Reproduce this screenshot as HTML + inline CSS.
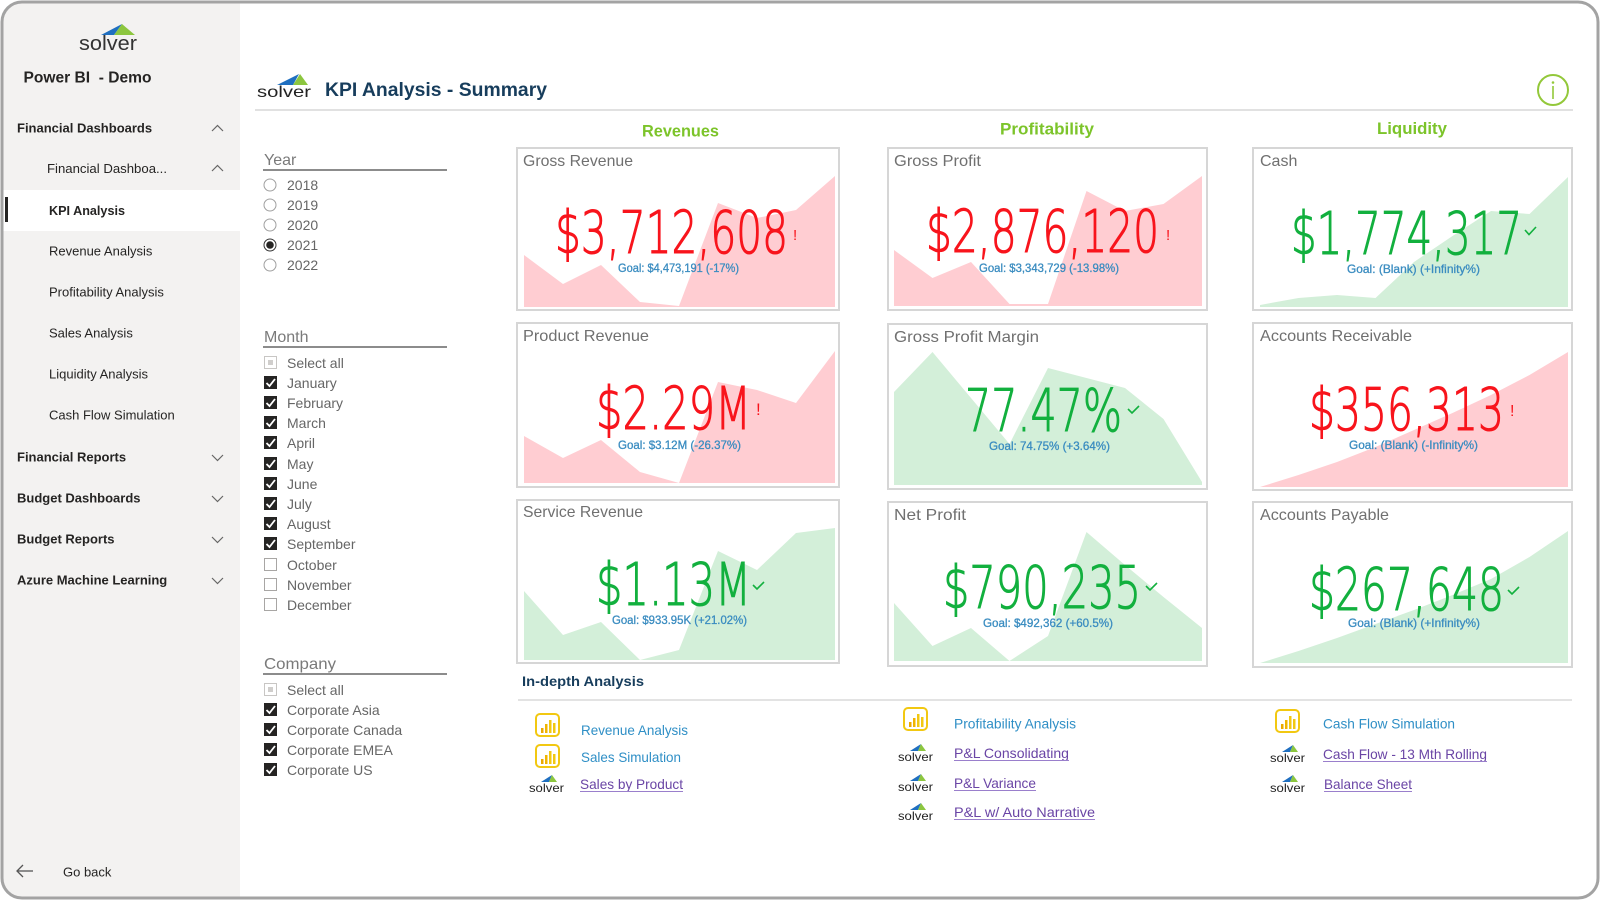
<!DOCTYPE html>
<html><head><meta charset="utf-8">
<style>
html,body{margin:0;padding:0;background:#fff;width:1600px;height:900px;overflow:hidden}
svg{display:block}
text{font-family:"Liberation Sans",sans-serif}
.nav{font-size:13px;fill:#252423}
.navb{font-size:13px;fill:#252423;font-weight:bold}
.fl{font-size:14px;fill:#666}
.fh{font-size:16px;fill:#7a7a7a}
.ct{font-size:16px;fill:#707070}
text.big{font-size:59px;font-family:"DejaVu Sans ExtraLight","DejaVu Sans","Liberation Sans",sans-serif;font-weight:200;stroke-width:1.1}
.r{fill:#f8141c;stroke:#f8141c}
.g{fill:#12b03e;stroke:#12b03e}
text.r.s,text.g.s{stroke:none}
.goal{font-size:12px;fill:#3a8cc0;stroke:#3a8cc0;stroke-width:0.3}
.lk{font-size:14px;fill:#2f8fc6}
.lkv{font-size:14px;fill:#6a45a5}
.chev{fill:none;stroke:#666;stroke-width:1.2}
.card{fill:#fff;stroke:#d6d6d6;stroke-width:2}
.pk{fill:#ffcdd2}
.gf{fill:#d3efd9}
.ck{fill:none;stroke:#12b03e;stroke-width:1.6}
.hdr{font-size:16.5px;font-weight:bold;fill:#7cc42a}
</style></head><body>
<svg width="1600" height="900" viewBox="0 0 1600 900" xmlns="http://www.w3.org/2000/svg">
<defs><clipPath id="fr"><rect x="2" y="2" width="1596" height="896" rx="20"/></clipPath></defs>
<rect width="1600" height="900" fill="#fff"/>
<g clip-path="url(#fr)">
  <rect x="0" y="0" width="240" height="900" fill="#f3f2f1"/>
  <rect x="0" y="190" width="240" height="41" fill="#fff"/>
</g>
<rect x="2" y="2" width="1596" height="896" rx="20" fill="none" stroke="#a3a3a3" stroke-width="3"/>

<!-- Sidebar -->
<polygon points="101,35 122,24 114,35" fill="#1f6fc0"/>
<polygon points="114,35 122,24 135,35" fill="#8cc63f"/>
<text x="79" y="50" font-size="20" fill="#333" textLength="58" lengthAdjust="spacingAndGlyphs">solver</text>
<text x="23.5" y="82.5" font-size="15.5" font-weight="bold" fill="#252423" textLength="128" lengthAdjust="spacingAndGlyphs">Power BI&#160;&#160;- Demo</text>

<text x="17" y="132.5" class="navb">Financial Dashboards</text>
<polyline class="chev" points="212,131 217.5,125.5 223,131"/>
<text x="47" y="173" class="nav" textLength="120" lengthAdjust="spacingAndGlyphs">Financial Dashboa...</text>
<polyline class="chev" points="212,171 217.5,165.5 223,171"/>
<rect x="5" y="197" width="3" height="25" fill="#252423"/>
<text x="49" y="215" class="navb" textLength="76" lengthAdjust="spacingAndGlyphs">KPI Analysis</text>
<text x="49" y="255.5" class="nav">Revenue Analysis</text>
<text x="49" y="296.5" class="nav">Profitability Analysis</text>
<text x="49" y="337.5" class="nav">Sales Analysis</text>
<text x="49" y="378.5" class="nav">Liquidity Analysis</text>
<text x="49" y="419.5" class="nav">Cash Flow Simulation</text>
<text x="17" y="461.5" class="navb">Financial Reports</text>
<polyline class="chev" points="212,455 217.5,460.5 223,455"/>
<text x="17" y="502.5" class="navb">Budget Dashboards</text>
<polyline class="chev" points="212,496 217.5,501.5 223,496"/>
<text x="17" y="543.5" class="navb">Budget Reports</text>
<polyline class="chev" points="212,537 217.5,542.5 223,537"/>
<text x="17" y="584.5" class="navb">Azure Machine Learning</text>
<polyline class="chev" points="212,578 217.5,583.5 223,578"/>
<g fill="none" stroke="#555" stroke-width="1.3"><line x1="17" y1="871" x2="33" y2="871"/><polyline points="23,865 17,871 23,877"/></g>
<text x="63" y="876.5" class="nav">Go back</text>

<!-- Header -->
<polygon points="277,85 299,74 293,85" fill="#1f6fc0"/>
<polygon points="293,85 300,74 308,85" fill="#8cc63f"/>
<text x="257" y="97" font-size="16" fill="#222" textLength="54" lengthAdjust="spacingAndGlyphs">solver</text>
<text x="325" y="96" font-size="19" font-weight="bold" fill="#173d5c" textLength="222" lengthAdjust="spacingAndGlyphs">KPI Analysis - Summary</text>
<line x1="255" y1="110" x2="1573" y2="110" stroke="#e1e1e1" stroke-width="2"/>
<circle cx="1553" cy="90" r="15" fill="none" stroke="#93c83a" stroke-width="2"/>
<circle cx="1553" cy="82.5" r="1.3" fill="#93c83a"/>
<line x1="1553" y1="86" x2="1553" y2="99" stroke="#93c83a" stroke-width="1.6"/>

<!-- Filters -->
<text x="264" y="165" class="fh">Year</text>
<line x1="263" y1="170" x2="447" y2="170" stroke="#666" stroke-width="1.6"/>
<g fill="#fff" stroke="#a0a0a0" stroke-width="1">
  <circle cx="270" cy="185" r="6"/><circle cx="270" cy="205" r="6"/><circle cx="270" cy="225" r="6"/><circle cx="270" cy="265" r="6"/>
</g>
<circle cx="270" cy="245" r="6" fill="#fff" stroke="#333" stroke-width="1"/>
<circle cx="270" cy="245" r="3.8" fill="#252423"/>
<text x="287" y="190" class="fl">2018</text>
<text x="287" y="210" class="fl">2019</text>
<text x="287" y="230" class="fl">2020</text>
<text x="287" y="250" class="fl">2021</text>
<text x="287" y="270" class="fl">2022</text>

<text x="264" y="342" class="fh">Month</text>
<line x1="263" y1="347" x2="447" y2="347" stroke="#666" stroke-width="1.6"/>
<rect x="264.5" y="356.5" width="12" height="12" fill="#fff" stroke="#c8c6c4"/>
<rect x="268" y="360" width="5" height="5" fill="#d0cecc"/>
<text x="287" y="368" class="fl">Select all</text>
<g fill="#252423">
  <rect x="264" y="376" width="13" height="13"/><rect x="264" y="396" width="13" height="13"/><rect x="264" y="416" width="13" height="13"/>
  <rect x="264" y="436" width="13" height="13"/><rect x="264" y="457" width="13" height="13"/><rect x="264" y="477" width="13" height="13"/>
  <rect x="264" y="497" width="13" height="13"/><rect x="264" y="517" width="13" height="13"/><rect x="264" y="537" width="13" height="13"/>
</g>
<g fill="none" stroke="#fff" stroke-width="1.8">
  <polyline points="266.5,383 269.5,386 275,379"/><polyline points="266.5,403 269.5,406 275,399"/><polyline points="266.5,423 269.5,426 275,419"/>
  <polyline points="266.5,443 269.5,446 275,439"/><polyline points="266.5,464 269.5,467 275,460"/><polyline points="266.5,484 269.5,487 275,480"/>
  <polyline points="266.5,504 269.5,507 275,500"/><polyline points="266.5,524 269.5,527 275,520"/><polyline points="266.5,544 269.5,547 275,540"/>
</g>
<g fill="#fff" stroke="#a8a6a4" stroke-width="1">
  <rect x="264.5" y="558.5" width="12" height="12"/><rect x="264.5" y="578.5" width="12" height="12"/><rect x="264.5" y="598.5" width="12" height="12"/>
</g>
<text x="287" y="388" class="fl">January</text>
<text x="287" y="408" class="fl">February</text>
<text x="287" y="428" class="fl">March</text>
<text x="287" y="448" class="fl">April</text>
<text x="287" y="469" class="fl">May</text>
<text x="287" y="489" class="fl">June</text>
<text x="287" y="509" class="fl">July</text>
<text x="287" y="529" class="fl">August</text>
<text x="287" y="549" class="fl">September</text>
<text x="287" y="570" class="fl">October</text>
<text x="287" y="590" class="fl">November</text>
<text x="287" y="610" class="fl">December</text>

<text x="264" y="669" class="fh" textLength="72" lengthAdjust="spacingAndGlyphs">Company</text>
<line x1="263" y1="674" x2="447" y2="674" stroke="#666" stroke-width="1.6"/>
<rect x="264.5" y="683.5" width="12" height="12" fill="#fff" stroke="#c8c6c4"/>
<rect x="268" y="687" width="5" height="5" fill="#d0cecc"/>
<text x="287" y="695" class="fl">Select all</text>
<g fill="#252423">
  <rect x="264" y="703" width="13" height="13"/><rect x="264" y="723" width="13" height="13"/><rect x="264" y="743" width="13" height="13"/><rect x="264" y="763" width="13" height="13"/>
</g>
<g fill="none" stroke="#fff" stroke-width="1.8">
  <polyline points="266.5,710 269.5,713 275,706"/><polyline points="266.5,730 269.5,733 275,726"/><polyline points="266.5,750 269.5,753 275,746"/><polyline points="266.5,770 269.5,773 275,766"/>
</g>
<text x="287" y="715" class="fl">Corporate Asia</text>
<text x="287" y="735" class="fl">Corporate Canada</text>
<text x="287" y="755" class="fl">Corporate EMEA</text>
<text x="287" y="775" class="fl">Corporate US</text>

<!-- Column headers -->
<text x="642" y="136.5" class="hdr" textLength="77" lengthAdjust="spacingAndGlyphs">Revenues</text>
<text x="1000" y="134.5" class="hdr" textLength="94" lengthAdjust="spacingAndGlyphs">Profitability</text>
<text x="1377" y="134" class="hdr" textLength="70" lengthAdjust="spacingAndGlyphs">Liquidity</text>

<!-- Card 1: Gross Revenue -->
<rect class="card" x="517" y="148" width="322" height="162"/>
<polygon class="pk" points="524,307 524,255 563,284 601,265 640,302 679,306 718,203 757,218 796,210 835,176 835,307"/>
<text x="523" y="166" class="ct" textLength="110" lengthAdjust="spacingAndGlyphs">Gross Revenue</text>
<text x="555" y="253" class="big r" textLength="233" lengthAdjust="spacingAndGlyphs">$3,712,608</text>
<text x="793" y="240" font-size="15" class="r s">!</text>
<text x="618" y="272" class="goal" textLength="121" lengthAdjust="spacingAndGlyphs">Goal: $4,473,191 (-17%)</text>

<!-- Card 2: Gross Profit -->
<rect class="card" x="888" y="148" width="319" height="162"/>
<polygon class="pk" points="894,306 894,250 932.5,278 971,262 1009.5,304 1048,304 1086.5,191 1125,211 1163.5,204 1202,176 1202,306"/>
<text x="894" y="166" class="ct" textLength="87" lengthAdjust="spacingAndGlyphs">Gross Profit</text>
<text x="926" y="252" class="big r" textLength="233" lengthAdjust="spacingAndGlyphs">$2,876,120</text>
<text x="1166" y="240" font-size="15" class="r s">!</text>
<text x="979" y="272" class="goal" textLength="140" lengthAdjust="spacingAndGlyphs">Goal: $3,343,729 (-13.98%)</text>

<!-- Card 3: Cash -->
<rect class="card" x="1253" y="148" width="319" height="162"/>
<polygon class="gf" points="1260,307 1260,305 1298.5,298 1337,295 1375.5,298 1414,262 1452.5,236 1491,211 1529.5,214 1568,177 1568,307"/>
<text x="1260" y="166" class="ct">Cash</text>
<text x="1291" y="254" class="big g" textLength="231" lengthAdjust="spacingAndGlyphs">$1,774,317</text>
<polyline class="ck" points="1525,230 1529,234.5 1536,227"/>
<text x="1347" y="273" class="goal" textLength="133" lengthAdjust="spacingAndGlyphs">Goal: (Blank) (+Infinity%)</text>

<!-- Card 4: Product Revenue -->
<rect class="card" x="517" y="323" width="322" height="164"/>
<polygon class="pk" points="524,483 524,436 563,458 601,440 640,472 679,483 718,382 757,390 796,403 835,351 835,483"/>
<text x="523" y="341" class="ct" textLength="126" lengthAdjust="spacingAndGlyphs">Product Revenue</text>
<text x="596" y="429" class="big r" textLength="155" lengthAdjust="spacingAndGlyphs">$2.29M</text>
<text x="756" y="415" font-size="17" class="r s">!</text>
<text x="618" y="449" class="goal" textLength="123" lengthAdjust="spacingAndGlyphs">Goal: $3.12M (-26.37%)</text>

<!-- Card 5: Gross Profit Margin -->
<rect class="card" x="888" y="324" width="319" height="165"/>
<polygon class="gf" points="894,485 894,392 932.5,352 971,398 1009.5,444 1048,368 1086.5,378 1125,388 1163.5,419 1202,482 1202,485"/>
<text x="894" y="342" class="ct" textLength="145" lengthAdjust="spacingAndGlyphs">Gross Profit Margin</text>
<text x="965" y="431" class="big g" textLength="157" lengthAdjust="spacingAndGlyphs">77.47%</text>
<polyline class="ck" points="1128,409 1132,413 1139,406"/>
<text x="989" y="450" class="goal" textLength="121" lengthAdjust="spacingAndGlyphs">Goal: 74.75% (+3.64%)</text>

<!-- Card 6: Accounts Receivable -->
<rect class="card" x="1253" y="323" width="319" height="167"/>
<polygon class="pk" points="1260,487 1298.5,475 1337,462 1375.5,447 1414,430 1452.5,413 1491,395 1529.5,375 1568,352 1568,487"/>
<text x="1260" y="341" class="ct" textLength="152" lengthAdjust="spacingAndGlyphs">Accounts Receivable</text>
<text x="1309" y="430" class="big r" textLength="195" lengthAdjust="spacingAndGlyphs">$356,313</text>
<text x="1510" y="416" font-size="16" class="r s">!</text>
<text x="1349" y="449" class="goal" textLength="129" lengthAdjust="spacingAndGlyphs">Goal: (Blank) (-Infinity%)</text>

<!-- Card 7: Service Revenue -->
<rect class="card" x="517" y="500" width="322" height="163"/>
<polygon class="gf" points="524,660 524,591 563,635 601,622 640,660 679,650 718,551 757,570 796,533 835,528 835,660"/>
<text x="523" y="517" class="ct" textLength="120" lengthAdjust="spacingAndGlyphs">Service Revenue</text>
<text x="596" y="605" class="big g" textLength="155" lengthAdjust="spacingAndGlyphs">$1.13M</text>
<polyline class="ck" points="753,585 757,589 764,582"/>
<text x="612" y="624" class="goal" textLength="135" lengthAdjust="spacingAndGlyphs">Goal: $933.95K (+21.02%)</text>

<!-- Card 8: Net Profit -->
<rect class="card" x="888" y="502" width="319" height="164"/>
<polygon class="gf" points="894,661 894,603 932.5,646 971,628 1009.5,661 1048,636 1086.5,532 1125,565 1163.5,597 1202,628 1202,661"/>
<text x="894" y="520" class="ct" textLength="72" lengthAdjust="spacingAndGlyphs">Net Profit</text>
<text x="943" y="608" class="big g" textLength="198" lengthAdjust="spacingAndGlyphs">$790,235</text>
<polyline class="ck" points="1146,586 1150,590 1157,583"/>
<text x="983" y="627" class="goal" textLength="130" lengthAdjust="spacingAndGlyphs">Goal: $492,362 (+60.5%)</text>

<!-- Card 9: Accounts Payable -->
<rect class="card" x="1253" y="502" width="319" height="165"/>
<polygon class="gf" points="1260,663 1298.5,651 1337,638 1375.5,624 1414,610 1452.5,595 1491,579 1529.5,557 1568,531 1568,663"/>
<text x="1260" y="520" class="ct" textLength="129" lengthAdjust="spacingAndGlyphs">Accounts Payable</text>
<text x="1309" y="610" class="big g" textLength="195" lengthAdjust="spacingAndGlyphs">$267,648</text>
<polyline class="ck" points="1508,590 1512,594 1519,587"/>
<text x="1348" y="627" class="goal" textLength="132" lengthAdjust="spacingAndGlyphs">Goal: (Blank) (+Infinity%)</text>

<!-- In-depth analysis -->
<text x="522" y="686" font-size="14" font-weight="bold" fill="#173d5c" textLength="122" lengthAdjust="spacingAndGlyphs">In-depth Analysis</text>
<line x1="518" y1="700" x2="1572" y2="700" stroke="#e3e3e3" stroke-width="2"/>

<!-- PBI icons -->
<g>
  <rect x="536" y="714" width="23" height="22" rx="4" fill="none" stroke="#f2c811" stroke-width="2"/>
  <rect x="541" y="728" width="2.5" height="5" fill="#eaa900"/>
  <rect x="545" y="724" width="2.5" height="9" fill="#f0b400"/>
  <rect x="549" y="720" width="2.5" height="13" fill="#f2c811"/>
  <rect x="553" y="723" width="2.5" height="10" fill="#f2c811"/>
</g>
<g>
  <rect x="536" y="745" width="23" height="22" rx="4" fill="none" stroke="#f2c811" stroke-width="2"/>
  <rect x="541" y="759" width="2.5" height="5" fill="#eaa900"/>
  <rect x="545" y="755" width="2.5" height="9" fill="#f0b400"/>
  <rect x="549" y="751" width="2.5" height="13" fill="#f2c811"/>
  <rect x="553" y="754" width="2.5" height="10" fill="#f2c811"/>
</g>
<g>
  <rect x="904" y="708" width="23" height="22" rx="4" fill="none" stroke="#f2c811" stroke-width="2"/>
  <rect x="909" y="722" width="2.5" height="5" fill="#eaa900"/>
  <rect x="913" y="718" width="2.5" height="9" fill="#f0b400"/>
  <rect x="917" y="714" width="2.5" height="13" fill="#f2c811"/>
  <rect x="921" y="717" width="2.5" height="10" fill="#f2c811"/>
</g>
<g>
  <rect x="1276" y="710" width="23" height="22" rx="4" fill="none" stroke="#f2c811" stroke-width="2"/>
  <rect x="1281" y="724" width="2.5" height="5" fill="#eaa900"/>
  <rect x="1285" y="720" width="2.5" height="9" fill="#f0b400"/>
  <rect x="1289" y="716" width="2.5" height="13" fill="#f2c811"/>
  <rect x="1293" y="719" width="2.5" height="10" fill="#f2c811"/>
</g>

<!-- small solver logos -->
<g>
  <polygon points="541,782 552,775 549,782" fill="#1f6fc0"/><polygon points="549,782 552,775 557,782" fill="#8cc63f"/>
  <text x="529" y="792" font-size="12" fill="#222" textLength="35" lengthAdjust="spacingAndGlyphs">solver</text>
</g>
<g>
  <polygon points="910,751 921,744 918,751" fill="#1f6fc0"/><polygon points="918,751 921,744 926,751" fill="#8cc63f"/>
  <text x="898" y="761" font-size="12" fill="#222" textLength="35" lengthAdjust="spacingAndGlyphs">solver</text>
</g>
<g>
  <polygon points="910,781 921,774 918,781" fill="#1f6fc0"/><polygon points="918,781 921,774 926,781" fill="#8cc63f"/>
  <text x="898" y="791" font-size="12" fill="#222" textLength="35" lengthAdjust="spacingAndGlyphs">solver</text>
</g>
<g>
  <polygon points="910,810 921,803 918,810" fill="#1f6fc0"/><polygon points="918,810 921,803 926,810" fill="#8cc63f"/>
  <text x="898" y="820" font-size="12" fill="#222" textLength="35" lengthAdjust="spacingAndGlyphs">solver</text>
</g>
<g>
  <polygon points="1282,752 1293,745 1290,752" fill="#1f6fc0"/><polygon points="1290,752 1293,745 1298,752" fill="#8cc63f"/>
  <text x="1270" y="762" font-size="12" fill="#222" textLength="35" lengthAdjust="spacingAndGlyphs">solver</text>
</g>
<g>
  <polygon points="1282,782 1293,775 1290,782" fill="#1f6fc0"/><polygon points="1290,782 1293,775 1298,782" fill="#8cc63f"/>
  <text x="1270" y="792" font-size="12" fill="#222" textLength="35" lengthAdjust="spacingAndGlyphs">solver</text>
</g>

<!-- links -->
<text x="581" y="735" class="lk" textLength="107" lengthAdjust="spacingAndGlyphs">Revenue Analysis</text>
<text x="581" y="762" class="lk" textLength="100" lengthAdjust="spacingAndGlyphs">Sales Simulation</text>
<text x="580" y="789" class="lkv" textLength="103" lengthAdjust="spacingAndGlyphs">Sales by Product</text>
<line x1="580" y1="791.5" x2="683" y2="791.5" stroke="#9a7fcc" stroke-width="1"/>

<text x="954" y="728.5" class="lk" textLength="122" lengthAdjust="spacingAndGlyphs">Profitability Analysis</text>
<text x="954" y="758" class="lkv" textLength="115" lengthAdjust="spacingAndGlyphs">P&amp;L Consolidating</text>
<line x1="954" y1="760.5" x2="1069" y2="760.5" stroke="#9a7fcc" stroke-width="1"/>
<text x="954" y="788" class="lkv" textLength="82" lengthAdjust="spacingAndGlyphs">P&amp;L Variance</text>
<line x1="954" y1="790.5" x2="1036" y2="790.5" stroke="#9a7fcc" stroke-width="1"/>
<text x="954" y="817" class="lkv" textLength="141" lengthAdjust="spacingAndGlyphs">P&amp;L w/ Auto Narrative</text>
<line x1="954" y1="819.5" x2="1095" y2="819.5" stroke="#9a7fcc" stroke-width="1"/>

<text x="1323" y="728.5" class="lk" textLength="132" lengthAdjust="spacingAndGlyphs">Cash Flow Simulation</text>
<text x="1323" y="759" class="lkv" textLength="164" lengthAdjust="spacingAndGlyphs">Cash Flow - 13 Mth Rolling</text>
<line x1="1323" y1="761.5" x2="1487" y2="761.5" stroke="#9a7fcc" stroke-width="1"/>
<text x="1324" y="789" class="lkv" textLength="88" lengthAdjust="spacingAndGlyphs">Balance Sheet</text>
<line x1="1324" y1="791.5" x2="1412" y2="791.5" stroke="#9a7fcc" stroke-width="1"/>
</svg>
</body></html>
